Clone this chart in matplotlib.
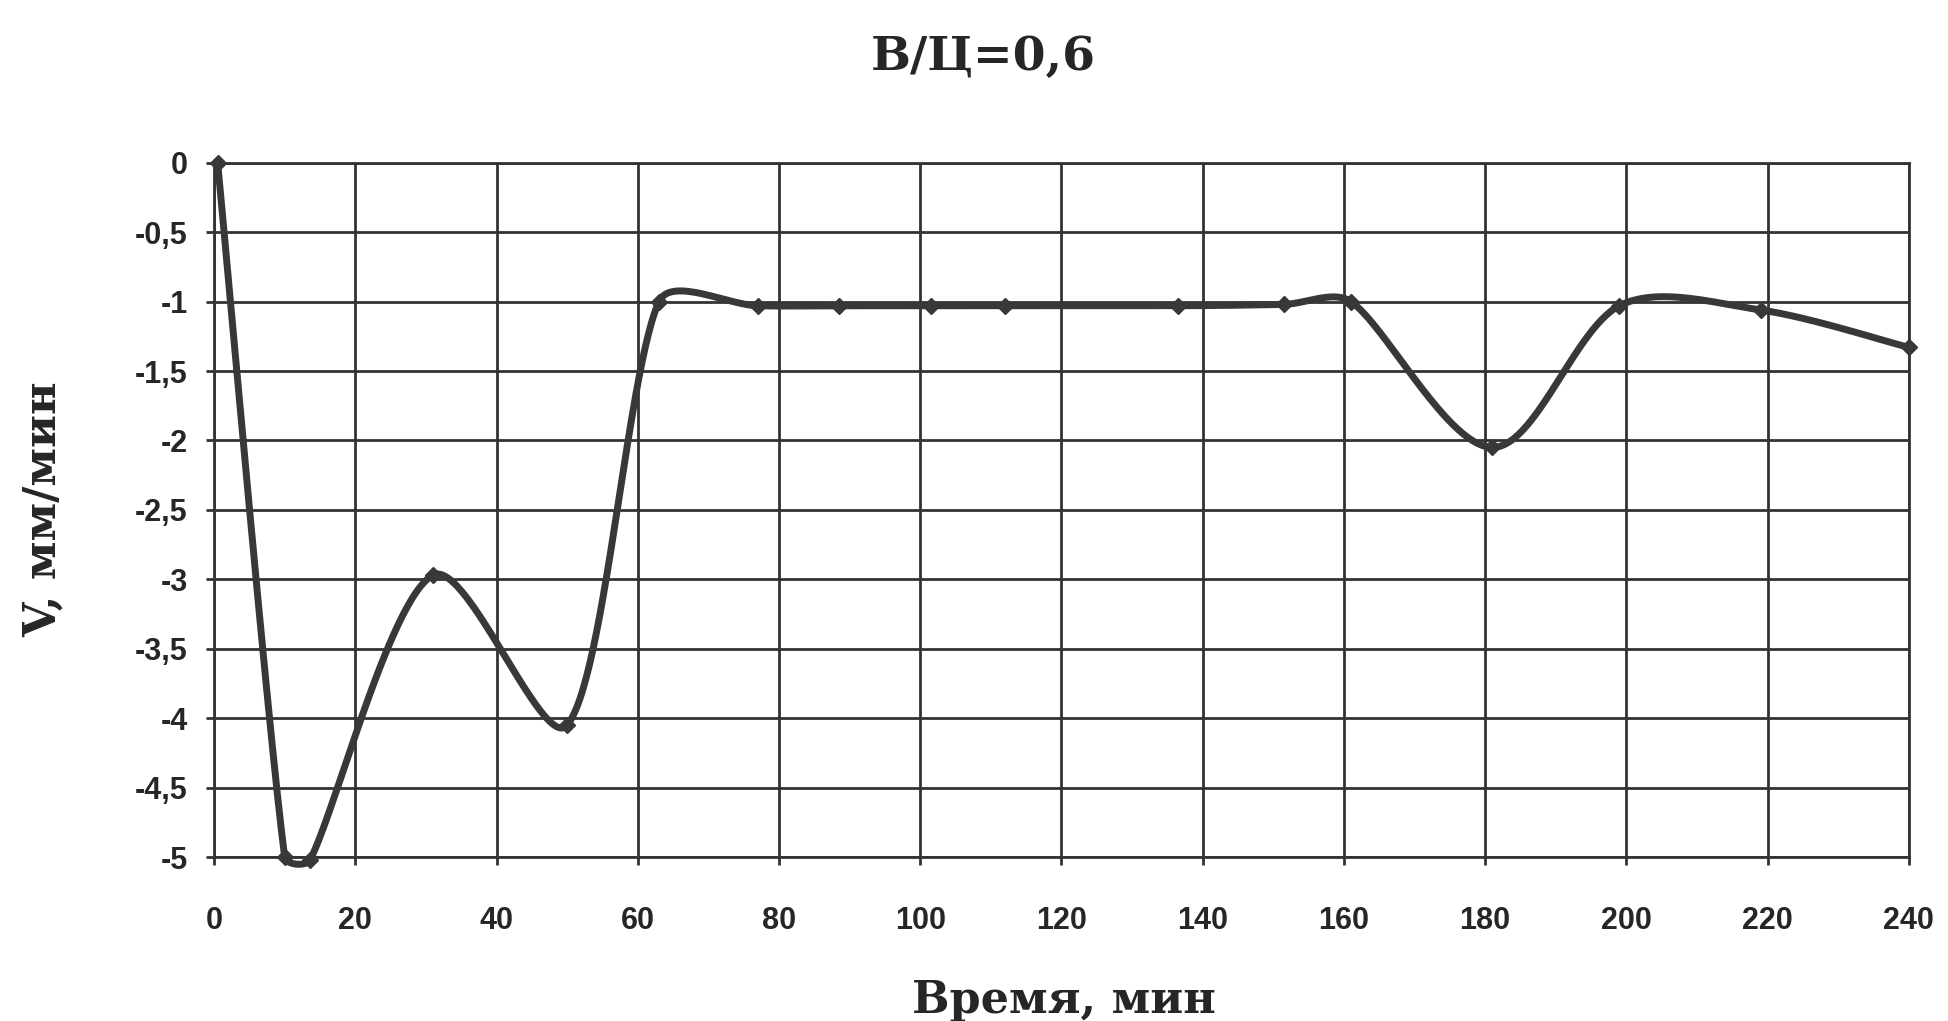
import numpy as np
import matplotlib.pyplot as plt

# данные: время (мин) и скорость V (мм/мин)
time_min = [0.5, 10.0, 13.6, 31, 50, 63, 77, 88.5, 101.5, 112, 136.5, 151.5, 161, 181, 199, 219, 240]
speed = [0, -5.0, -5.02, -2.97, -4.05, -1.0, -1.03, -1.03, -1.03, -1.03, -1.03, -1.02, -1.0, -2.05, -1.03, -1.06, -1.33]

x_ticks = list(range(0, 241, 20))
y_ticks = [0, -0.5, -1, -1.5, -2, -2.5, -3, -3.5, -4, -4.5, -5]
y_labels = ["0", "-0,5", "-1", "-1,5", "-2", "-2,5", "-3", "-3,5", "-4", "-4,5", "-5"]

title = "В/Ц=0,6"
x_title = "Время, мин"
y_title = "V, мм/мин"

ink = "#333333"


def smooth_line(xs, ys, sx=7.06, sy=138.8, n=60):
    # сглаженная линия: кубические Безье; касательная как у Catmull-Rom,
    # но укорачивается у очень коротких отрезков, чтобы не было петель
    p = np.column_stack([xs, ys]).astype(float)
    pe = np.vstack([p[0], p, p[-1]])
    de = np.linalg.norm(np.diff(pe, axis=0) * [sx, sy], axis=1)
    parts = []
    s = np.linspace(0, 1, n)[:, None]
    for i in range(len(p) - 1):
        p0, p1, p2, p3 = pe[i], pe[i + 1], pe[i + 2], pe[i + 3]
        d0, d1, d2 = de[i], de[i + 1], de[i + 2]
        w1 = min(d1 / (d0 + d1), 0.5) if d0 > 0 else 0.5
        w2 = min(d1 / (d1 + d2), 0.5) if d2 > 0 else 0.5
        c1 = p1 + (p2 - p0) * w1 / 3
        c2 = p2 - (p3 - p1) * w2 / 3
        seg = (1 - s) ** 3 * p1 + 3 * (1 - s) ** 2 * s * c1 + 3 * (1 - s) * s ** 2 * c2 + s ** 3 * p2
        parts.append(seg if i == 0 else seg[1:])
    return np.vstack(parts)


fig = plt.figure(figsize=(19.48, 10.21), dpi=100)
fig.patch.set_facecolor("white")
ax = fig.add_axes([0.1099, 0.1606, 0.870, 0.680])

curve = smooth_line(time_min, speed)
ax.plot(curve[:, 0], curve[:, 1], color="#383838", lw=5, solid_capstyle="round",
        solid_joinstyle="round", clip_on=False, zorder=3)
ax.plot(time_min, speed, linestyle="none", marker="D", ms=8, color="#383838", clip_on=False, zorder=4)

ax.set_xlim(0, 240)
ax.set_ylim(-5, 0)
ax.set_xticks(x_ticks)
ax.set_yticks(y_ticks)
ax.set_yticklabels(y_labels)

ax.grid(True, color=ink, lw=2.0)
ax.set_axisbelow(True)
for sp in ax.spines.values():
    sp.set_color(ink)
    sp.set_linewidth(2.0)

ax.tick_params(axis="both", direction="out", length=6, width=2.0, color=ink)
ax.tick_params(axis="x", pad=29)
ax.tick_params(axis="y", pad=13)
for lbl in ax.get_xticklabels() + ax.get_yticklabels():
    lbl.set_fontfamily("Liberation Sans")
    lbl.set_fontweight("bold")
    lbl.set_fontsize(22)
    lbl.set_color("#262626")

serif = ["DejaVu Serif"]
fig.text(0.5046, 0.9314, title, ha="center", va="baseline", family=serif,
         fontweight="bold", fontsize=34, color="#262626")
fig.text(0.546, 0.008, x_title, ha="center", va="baseline", family=serif,
         fontweight="bold", fontsize=32, color="#262626")
fig.text(0.022, 0.501, y_title, ha="center", va="center", rotation=90, family=serif,
         fontweight="bold", fontsize=32, color="#262626")

fig.savefig("out.png", dpi=100, facecolor="white")
